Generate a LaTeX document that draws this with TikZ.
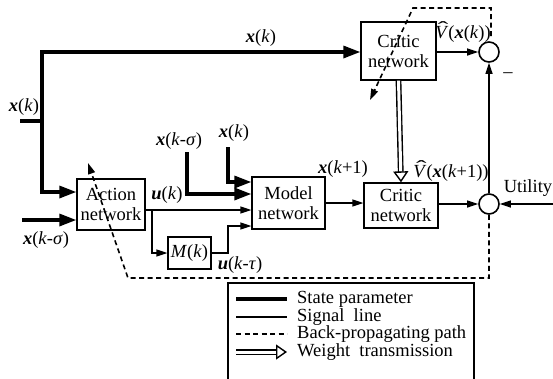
\documentclass[tikz,border=0pt]{standalone}
\usepackage{fontspec}
\setmainfont{Liberation Serif}
\usetikzlibrary{arrows.meta}
\newcommand{\bx}{\textbf{\textit{x}}}
\newcommand{\bu}{\textbf{\textit{u}}}
\newcommand{\ik}{\textit{k}}
\newcommand{\Vh}{\textit{V}\llap{\raisebox{0.2em}{\scalebox{1.7}[1]{\char"02C6}}\kern0.0em}}
\begin{document}
\begin{tikzpicture}[x=1pt,y=-1pt,
  every node/.style={font=\fontsize{18.5}{20}\selectfont, inner sep=0pt},
  blk/.style={draw, line width=1.3pt, align=center},
  sumc/.style={draw, circle, line width=1.6pt, minimum size=20pt},
  thk/.style={line width=3.2pt},
  thn/.style={line width=1.3pt},
  thkar/.style={thk, -{Triangle[length=17pt,width=12pt]}},
  thnar/.style={thn, -{Triangle[length=11pt,width=7pt]}},
  bp/.style={line width=1.6pt, dash pattern=on 5pt off 3.5pt},
  bpar/.style={bp, -{Triangle[length=11pt,width=7pt]}},
  dbl/.style={line width=1.4pt, double, double distance=3pt, -{Triangle[open,length=11pt,width=15pt]}}]
\useasboundingbox (0,0) rectangle (553,378);

% blocks
\node[blk, minimum width=75pt, minimum height=58pt] (critic1) at (398.5,51) {Critic\\network};
\node[blk, minimum width=74pt, minimum height=45pt] (critic2) at (401,205.5) {Critic\\network};
\node[blk, minimum width=73pt, minimum height=52pt] (model) at (288.5,203) {Model\\network};
\node[blk, minimum width=68pt, minimum height=51pt] (action) at (111,204.5) {Action\\network};
\node[blk, minimum width=43pt, minimum height=32pt] (mbox) at (189.5,253) {\textit{M}(\ik)};
\node[sumc] (c1) at (489,52) {};
\node[sumc] (c2) at (489,204) {};

% coordinates
\coordinate (lin) at (20,121);
\coordinate (jm) at (42,121);
\coordinate (j1) at (42,52);
\coordinate (j2) at (42,192);
\coordinate (in2) at (22,220);
\coordinate (xs) at (187,152);
\coordinate (xk) at (228,147);
\coordinate (br) at (152,210);
\coordinate (ut) at (553,204);

% state lines
\draw[thk] (lin) -- (jm);
\draw[thkar] (j2) -- (j1) -- (critic1.west |- j1);
\draw[thkar] (j1) -- (j2) -- (action.west |- j2);
\draw[thkar] (in2) -- (action.west |- in2);
\draw[thkar] (xs) |- (model.west |- 0,194);
\draw[thkar] (xk) |- (model.west |- 0,182);

% signal lines
\draw[thnar] (action.east |- br) -- (model.west |- br);
\draw[thnar] (br) |- (mbox.west);
\draw[thnar] (mbox.east) -| (228,226) -- (model.west |- 0,226);
\draw[thnar] (model.east) -- (critic2.west |- model.east);
\draw[thnar] (critic2.east |- c2) -- (c2.west);
\draw[thnar] (ut) -- (c2.east);
\draw[thnar] (c2.north) -- (c1.south);
\draw[thnar] (critic1.east |- c1) -- (c1.west);

% weight transmission
\draw[dbl] (critic1.south) -- (critic2.north);

% back-propagating
\draw[bpar] (491,36) -- (491,8) -- (413,8) -- (370,100);
\draw[bpar] (c2.south) -- (489,278) -- (128,278) -- (88,163);

% labels
\node (l1) at (261,38) {\bx(\ik)};
\node (l2) at (24,107) {\bx(\ik)};
\node (l3) at (179,141) {\bx(\ik-\textit{σ})};
\node (l4) at (234,133) {\bx(\ik)};
\node (l5) at (167,195) {\bu(\ik)};
\node (l6) at (46,240) {\bx(\ik-\textit{σ})};
\node (l7) at (240,265) {\bu(\ik-\textit{τ})};
\node (l8) at (343,169) {\bx(\ik+1)};
\node (l9) at (451,171) {\Vh(\bx(\ik+1))};
\node (l10) at (463,32) {\Vh(\bx(\ik))};
\node (l11) at (508,75) {–};
\node (l12) at (528,188) {Utility};

% legend
\draw[thn] (228,283) rectangle (474,380);
\coordinate (g1a) at (236,299); \coordinate (g1b) at (287,299);
\coordinate (g2a) at (236,317); \coordinate (g2b) at (287,317);
\coordinate (g3a) at (236,334); \coordinate (g3b) at (287,334);
\coordinate (g4a) at (236,352); \coordinate (g4b) at (287,352);
\draw[thk] (g1a) -- (g1b);
\draw[thn] (g2a) -- (g2b);
\draw[bp] (g3a) -- (g3b);
\draw[dbl] (g4a) -- (g4b);
\node[anchor=west] (t1) at (297,299) {State parameter};
\node[anchor=west] (t2) at (297,317) {Signal\ \ line};
\node[anchor=west] (t3) at (297,334) {Back-propagating path};
\node[anchor=west] (t4) at (297,352) {Weight\ \ transmission};
\end{tikzpicture}
\end{document}
